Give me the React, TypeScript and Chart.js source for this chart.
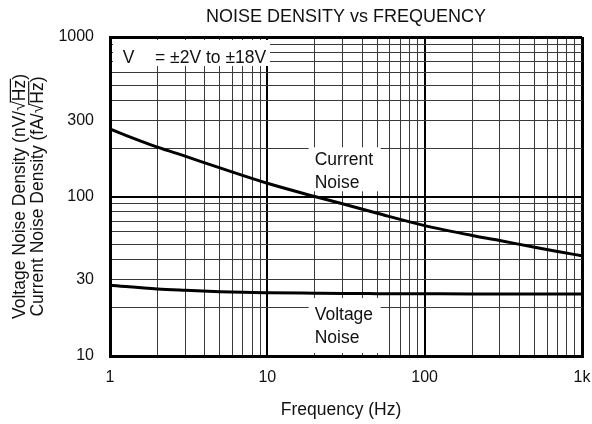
import React, { useEffect, useRef } from 'react';
import { Chart, registerables } from 'chart.js';

Chart.register(...registerables);

const FONT = "'Liberation Sans', Arial, Helvetica, sans-serif";

const TITLE = 'NOISE DENSITY vs FREQUENCY';
const X_TITLE = 'Frequency (Hz)';
const Y_TITLE_LINES = [
  ['Voltage Noise Density (nV/√', 'Hz', ')'],
  ['Current Noise Density (fA/√', 'Hz', ')'],
];

const frequencies = [1, 2, 3, 5, 10, 20, 30, 50, 100, 200, 300, 500, 700, 1000];
const currentNoise = [264, 204, 179, 151, 121, 100, 90, 78.5, 65.7, 57, 53, 48, 45.2, 42.5];
const voltageNoise = [27.8, 26.3, 25.8, 25.3, 24.95, 24.75, 24.65, 24.6, 24.55, 24.5, 24.5, 24.5, 24.5, 24.5];

const xTickValues = [
  1, 2, 3, 4, 5, 6, 7, 8, 9,
  10, 20, 30, 40, 50, 60, 70, 80, 90,
  100, 200, 300, 400, 500, 600, 700, 800, 900,
  1000,
];
const xTickLabels: Record<number, string> = { 1: '1', 10: '10', 100: '100', 1000: '1k' };

const yTickValues = [
  10, 20, 30, 40, 50, 60, 70, 80, 90,
  100, 200, 300, 400, 500, 600, 700, 800, 900,
  1000,
];
const yTickLabels: Record<number, string> = { 10: '10', 30: '30', 100: '100', 300: '300', 1000: '1000' };

const majorValues = [1, 10, 100, 1000];

const supplyLabel = ['V', '= ±2V to ±18V'];
const curveLabels = [
  { lines: ['Current', 'Noise'], x: 20, y: 157, boxTop: 18, boxBottom: 26 },
  { lines: ['Voltage', 'Noise'], x: 20, y: 16.8, boxTop: 22, boxBottom: 33 },
];

const gridColor = (ctx: any) => (majorValues.includes(ctx.tick?.value) ? '#000' : '#3a3a3a');
const gridWidth = (first: number, last: number) => (ctx: any) => {
  const v = ctx.tick?.value;
  if (v === first || v === last) return 3;
  return majorValues.includes(v) ? 2 : 1;
};

const decorPlugin = {
  id: 'decor',
  afterDraw(chart: any) {
    const { ctx, chartArea } = chart;
    const xs = chart.scales.x;
    const ys = chart.scales.y;
    const text = '#111';
    ctx.save();

    // Title
    ctx.fillStyle = text;
    ctx.font = `18px ${FONT}`;
    ctx.textAlign = 'center';
    ctx.textBaseline = 'alphabetic';
    ctx.fillText(TITLE, (chartArea.left + chartArea.right) / 2, chartArea.top - 15.5);

    // X title
    ctx.font = `17.5px ${FONT}`;
    ctx.fillText(X_TITLE, (chartArea.left + chartArea.right) / 2 - 5, chartArea.bottom + 59);

    // Y titles (rotated)
    const cy = (chartArea.top + chartArea.bottom) / 2;
    const baseXs = [25, 43.3];
    Y_TITLE_LINES.forEach((parts, i) => {
      ctx.save();
      ctx.translate(baseXs[i], cy);
      ctx.rotate(-Math.PI / 2);
      ctx.font = `17.5px ${FONT}`;
      ctx.textAlign = 'left';
      const w0 = ctx.measureText(parts[0]).width;
      const w1 = ctx.measureText(parts[1]).width;
      const w2 = ctx.measureText(parts[2]).width;
      const sq = ctx.measureText('√').width;
      const total = w0 + w1 + w2;
      const start = -total / 2;
      ctx.fillText(parts[0], start, 0);
      ctx.fillText(parts[1], start + w0, 0);
      ctx.fillText(parts[2], start + w0 + w1, 0);
      ctx.strokeStyle = text;
      ctx.lineWidth = 1.2;
      ctx.beginPath();
      ctx.moveTo(start + w0 - sq * 0.12, -14.6);
      ctx.lineTo(start + w0 + w1 + 1, -14.6);
      ctx.stroke();
      ctx.restore();
    });

    // Supply legend box
    ctx.fillStyle = '#fff';
    ctx.fillRect(chartArea.left + 3, chartArea.top + 3, 157, 26);
    ctx.fillStyle = text;
    ctx.font = `17.5px ${FONT}`;
    ctx.textAlign = 'left';
    ctx.fillText(supplyLabel[0], chartArea.left + 12.7, chartArea.top + 26.3);
    ctx.fillText(supplyLabel[1], chartArea.left + 45, chartArea.top + 26.3);

    // Curve labels
    curveLabels.forEach((lab) => {
      const px = xs.getPixelForValue(lab.x);
      const py = ys.getPixelForValue(lab.y);
      ctx.fillStyle = '#fff';
      ctx.fillRect(px - 6, py - lab.boxTop, 72, lab.boxTop + lab.boxBottom);
      ctx.fillStyle = text;
      lab.lines.forEach((l, i) => ctx.fillText(l, px, py + i * 22.5));
    });

    ctx.restore();
  },
};

export default function App() {
  const ref = useRef<HTMLCanvasElement | null>(null);

  useEffect(() => {
    if (!ref.current) return;
    const chart = new Chart(ref.current, {
      type: 'line',
      data: {
        datasets: [
          {
            label: 'Current Noise',
            data: frequencies.map((f, i) => ({ x: f, y: currentNoise[i] })),
            borderColor: '#000',
            borderWidth: 3,
            pointRadius: 0,
            cubicInterpolationMode: 'monotone',
          },
          {
            label: 'Voltage Noise',
            data: frequencies.map((f, i) => ({ x: f, y: voltageNoise[i] })),
            borderColor: '#000',
            borderWidth: 3,
            pointRadius: 0,
            cubicInterpolationMode: 'monotone',
          },
        ],
      },
      options: {
        animation: false,
        responsive: false,
        maintainAspectRatio: false,
        layout: { padding: { top: 37, right: 10, bottom: 0, left: 0 } },
        plugins: { legend: { display: false }, title: { display: false }, tooltip: { enabled: false } },
        scales: {
          x: {
            type: 'logarithmic',
            min: 1,
            max: 1000,
            afterBuildTicks: (scale: any) => {
              scale.ticks = xTickValues.map((v) => ({ value: v }));
            },
            afterFit: (scale: any) => {
              scale.height = 68;
              scale.paddingLeft = 0;
              scale.paddingRight = 0;
            },
            ticks: {
              autoSkip: false,
              maxRotation: 0,
              padding: 12,
              color: '#111',
              font: { family: FONT, size: 16 },
              callback: (v: any) => xTickLabels[Number(v)] ?? '',
            },
            grid: { color: gridColor, lineWidth: gridWidth(1, 1000), drawTicks: false },
            border: { display: true, color: '#000', width: 3 },
          },
          y: {
            type: 'logarithmic',
            min: 10,
            max: 1000,
            afterBuildTicks: (scale: any) => {
              scale.ticks = yTickValues.map((v) => ({ value: v }));
            },
            afterFit: (scale: any) => {
              scale.width = 110;
              scale.paddingTop = 0;
              scale.paddingBottom = 0;
            },
            ticks: {
              autoSkip: false,
              padding: 16,
              color: '#111',
              font: { family: FONT, size: 16 },
              callback: (v: any) => yTickLabels[Number(v)] ?? '',
            },
            grid: { color: gridColor, lineWidth: gridWidth(10, 1000), drawTicks: false },
            border: { display: true, color: '#000', width: 3 },
          },
        },
      },
      plugins: [decorPlugin],
    } as any);
    return () => chart.destroy();
  }, []);

  return (
    <div style={{ position: 'absolute', left: 0, top: 0, width: 592, height: 424, background: '#fff' }}>
      <canvas ref={ref} width={592} height={424} style={{ display: 'block', width: 592, height: 424 }} />
    </div>
  );
}
